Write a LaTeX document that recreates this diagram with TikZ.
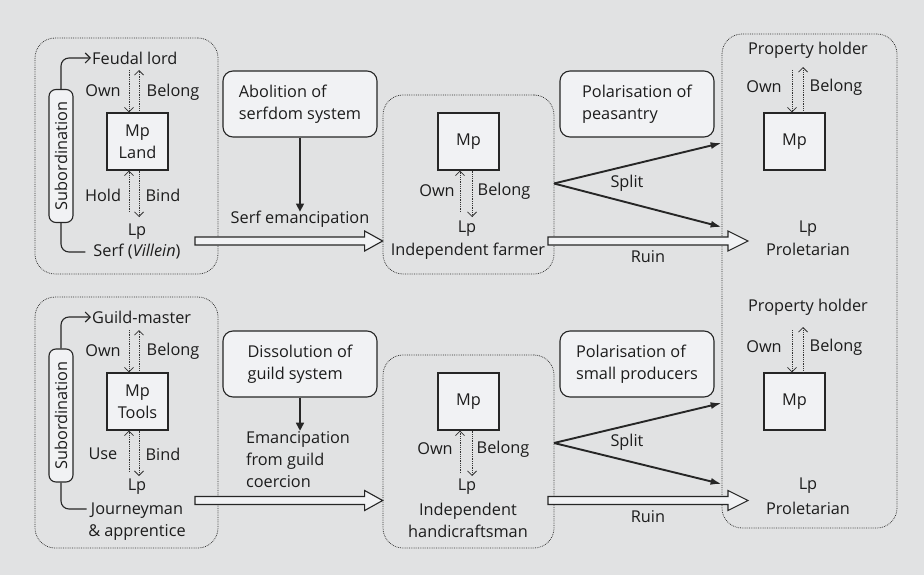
\documentclass[tikz,border=0pt]{standalone}
\usepackage{fontspec}
\setmainfont{Open Sans}
\usetikzlibrary{arrows.meta,calc}
\definecolor{bg}{HTML}{E1E2E3}
\definecolor{boxfill}{HTML}{F1F2F4}
\definecolor{ink}{HTML}{262626}
\definecolor{dotcol}{HTML}{333333}
\definecolor{txt}{HTML}{1C1C1C}

% wide hollow arrow: start, tip, head length
\newcommand\fatarrow[3]{%
  \draw[fat] ($(#1)+(0,-4)$) -- ($(#2)+(-#3,-4)$) -- ($(#2)+(-#3,-10)$) -- (#2)
    -- ($(#2)+(-#3,10)$) -- ($(#2)+(-#3,4)$) -- ($(#1)+(0,4)$) -- cycle;}

\begin{document}
\begin{tikzpicture}[x=1pt,y=-1pt,
  every node/.style={font=\fontsize{16.3}{22}\selectfont, inner sep=1pt, text=txt},
  dotbox/.style={draw=dotcol, line width=0.75pt, dash pattern=on 0.8pt off 1pt, rounded corners=20pt},
  mpbox/.style={draw=ink, fill=boxfill, line width=1.1pt, minimum width=61pt, minimum height=57pt, align=center},
  rbox/.style={draw=ink, fill=boxfill, line width=1.1pt, rounded corners=10pt, minimum width=154pt, minimum height=66pt, align=left},
  pill/.style={draw=ink, fill=boxfill, line width=1.1pt, rounded corners=7pt, rotate=90, minimum width=133pt, minimum height=24pt},
  dotarrow/.style={draw=dotcol, line width=0.75pt, dash pattern=on 0.8pt off 1pt, -{Straight Barb[length=4.5pt,width=9pt]}},
  subarrow/.style={draw=ink, line width=1.1pt, rounded corners=8pt},
  solidarrow/.style={draw=ink, line width=1.4pt, -{Triangle[length=8pt,width=8pt]}},
  splitarrow/.style={draw=ink, line width=1.9pt, -{Latex[length=11pt,width=7pt]}},
  fat/.style={draw=ink, fill=boxfill, line width=1.1pt, line join=miter}
]
\useasboundingbox[fill=bg] (0,0) rectangle (924,575);

% ---------------- feudal system ----------------
\node[mpbox] (land) at (137.5,141.5) {Mp\\Land};
\node[anchor=west] (lord) at (91,58) {Feudal lord};
\node (lp1) at (137,232) {Lp};
\node (serf) at (137,252) {Serf (\textit{Villein})};
\node[pill] (sub1) at (61,156) {Subordination};
\node at (103,91) {Own};
\node at (173,92) {Belong};
\node at (103,195) {Hold};
\node at (163,195) {Bind};
\coordinate (a1) at (129,70);
\coordinate (b1) at (139,70);
\coordinate (c1) at (129,212);
\coordinate (d1) at (139,217);
\draw[dotarrow] (a1) -- (a1 |- land.north);
\draw[dotarrow] (b1 |- land.north) -- (b1);
\draw[dotarrow] (c1) -- (c1 |- land.south);
\draw[dotarrow] (d1 |- land.south) -- (d1);
\draw[subarrow, -{Straight Barb[length=5pt,width=10pt]}] (sub1.east) |- (lord.west);
\draw[subarrow] (sub1.west) |- ([xshift=-7pt]serf.west);

\node[rbox] (abol) at (300,104) {Abolition of\\serfdom system};
\node (eman1) at (300,219) {Serf emancipation};
\draw[solidarrow] (abol.south) -- ([yshift=-2pt]eman1.north);

% independent farmer
\node[mpbox] (mp2) at (468.5,141.5) {Mp};
\node at (437,191) {Own};
\node at (504,191) {Belong};
\node (lp2) at (467,229) {Lp};
\node (farmer) at (468,251) {Independent farmer};
\coordinate (c2) at (460,212);
\coordinate (d2) at (472,217);
\draw[dotarrow] (c2) -- (c2 |- mp2.south);
\draw[dotarrow] (d2 |- mp2.south) -- (d2);

\node[rbox] (pol1) at (637,104) {Polarisation of\\peasantry};

% property holder / proletarian
\node (ph1) at (808,50) {Property holder};
\node at (764,87) {Own};
\node at (836,87) {Belong};
\node[mpbox] (mp3) at (794.5,141.5) {Mp};
\node (lp3) at (808,229) {Lp};
\node (prol1) at (808,249) {Proletarian};
\coordinate (a3) at (792,70);
\coordinate (b3) at (803,67);
\draw[dotarrow] (a3) -- (a3 |- mp3.north);
\draw[dotarrow] (b3 |- mp3.north) -- (b3);

% ---------------- guild system ----------------
\node[mpbox] (tools) at (137.5,401.5) {Mp\\Tools};
\node[anchor=west] (gm) at (91,317) {Guild-master};
\node (lp4) at (137,487) {Lp};
\node (jour) at (137,511) {Journeyman};
\node (appr) at (137,532) {\& apprentice};
\node[pill] (sub2) at (61,415.5) {Subordination};
\node at (103,351) {Own};
\node at (173,351) {Belong};
\node at (103,454) {Use};
\node at (163,454) {Bind};
\coordinate (a4) at (129,330);
\coordinate (b4) at (139,330);
\coordinate (c4) at (129,472);
\coordinate (d4) at (139,476);
\draw[dotarrow] (a4) -- (a4 |- tools.north);
\draw[dotarrow] (b4 |- tools.north) -- (b4);
\draw[dotarrow] (c4) -- (c4 |- tools.south);
\draw[dotarrow] (d4 |- tools.south) -- (d4);
\draw[subarrow, -{Straight Barb[length=5pt,width=10pt]}] (sub2.east) |- (gm.west);
\draw[subarrow] (sub2.west) |- ([xshift=-3pt,yshift=2pt]jour.west);

\node[rbox] (diss) at (300,364) {Dissolution of\\guild system};
\node[align=left] (eman2) at (298,460) {Emancipation\\from guild\\coercion};
\draw[solidarrow] (diss.south) -- (diss.south |- eman2.north);

% independent handicraftsman
\node[mpbox] (mp4) at (468.5,401.5) {Mp};
\node at (435,449) {Own};
\node at (503,449) {Belong};
\node (lp5) at (467,487) {Lp};
\node[align=center] (craft) at (468,520) {Independent\\handicraftsman};
\coordinate (c5) at (460,473);
\coordinate (d5) at (472,476);
\draw[dotarrow] (c5) -- (c5 |- mp4.south);
\draw[dotarrow] (d5 |- mp4.south) -- (d5);

\node[rbox] (pol2) at (637,364) {Polarisation of\\small producers};

\node (ph2) at (808,307) {Property holder};
\node at (764,347) {Own};
\node at (836,347) {Belong};
\node[mpbox] (mp5) at (794.5,401.5) {Mp};
\node (lp6) at (808,486) {Lp};
\node (prol2) at (808,508) {Proletarian};
\coordinate (a6) at (792,330);
\coordinate (b6) at (803,327);
\draw[dotarrow] (a6) -- (a6 |- mp5.north);
\draw[dotarrow] (b6 |- mp5.north) -- (b6);

% ---------------- grouping frames ----------------
\node[dotbox, minimum width=183pt, minimum height=236pt] (feud) at (126.5,156) {};
\node[dotbox, minimum width=171pt, minimum height=179pt] (farm) at (468.5,184.5) {};
\node[dotbox, minimum width=175pt, minimum height=494pt] (prop) at (809.5,281) {};
\node[dotbox, minimum width=183pt, minimum height=251pt] (guild) at (126.5,422.5) {};
\node[dotbox, minimum width=171pt, minimum height=193pt] (hand) at (468.5,451.5) {};

% ---------------- transitions ----------------
\coordinate (h1) at (195,241);
\coordinate (r1) at (548,241);
\coordinate (h2) at (195,500.5);
\coordinate (r2) at (548,500.5);
\fatarrow{h1}{h1 -| farm.west}{18}
\fatarrow{r1}{748,241}{20}
\fatarrow{h2}{h2 -| hand.west}{18}
\fatarrow{r2}{748,500.5}{20}
\node at (648,257) {Ruin};
\node at (648,517) {Ruin};

\coordinate (s1) at (554,183.5);
\coordinate (s2) at (554,443);
\draw[splitarrow] (s1) -- (prop.west |- 0,143);
\draw[splitarrow] (s1) -- (prop.west |- 0,227);
\draw[splitarrow] (s2) -- (prop.west |- 0,403);
\draw[splitarrow] (s2) -- (prop.west |- 0,484);
\node at (627,183) {Split};
\node at (627,442) {Split};
\end{tikzpicture}
\end{document}
